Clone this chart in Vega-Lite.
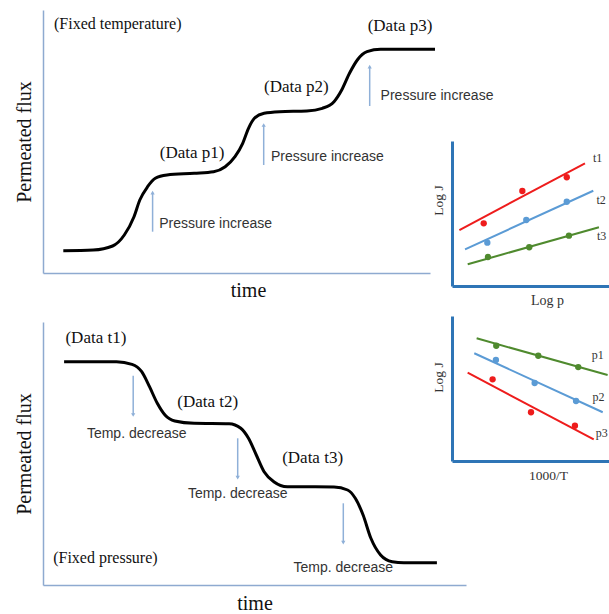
{
  "$schema": "https://vega.github.io/schema/vega-lite/v6.json",
  "background": "white",
  "padding": {"left": 14, "top": 10, "right": 0, "bottom": 0},
  "config": {
    "view": {"stroke": null},
    "axis": {"grid": false, "labels": false, "ticks": false, "titleFontWeight": "normal", "titleFont": "Liberation Serif"}
  },
  "datasets": {
    "curveP": [
      {"time": 20.3, "flux": 22.3}, {"time": 50.2, "flux": 23}, {"time": 69.6, "flux": 27}, {"time": 81.3, "flux": 38},
      {"time": 91, "flux": 56.3}, {"time": 96.8, "flux": 73}, {"time": 104.6, "flux": 86.3}, {"time": 112.3, "flux": 94.7},
      {"time": 124, "flux": 98}, {"time": 151.2, "flux": 99.7}, {"time": 170.6, "flux": 101.3}, {"time": 182.2, "flux": 106.3},
      {"time": 192, "flux": 116.3}, {"time": 199.7, "flux": 129.7}, {"time": 205.5, "flux": 144.7}, {"time": 211.4, "flux": 154.7},
      {"time": 221.1, "flux": 159.7}, {"time": 236.6, "flux": 161.3}, {"time": 263.8, "flux": 162}, {"time": 279.3, "flux": 164.7},
      {"time": 291, "flux": 171.3}, {"time": 298.7, "flux": 183}, {"time": 306.5, "flux": 199.7}, {"time": 314.3, "flux": 213},
      {"time": 324, "flux": 221.3}, {"time": 337.6, "flux": 223.7}, {"time": 392, "flux": 223.7}
    ],
    "curveT": [
      {"time": 21.1, "flux": 223.3}, {"time": 73.5, "flux": 223.3}, {"time": 89, "flux": 220.7}, {"time": 98.7, "flux": 213.3},
      {"time": 106.5, "flux": 198.3}, {"time": 114.3, "flux": 181.7}, {"time": 122, "flux": 170}, {"time": 131.8, "flux": 164},
      {"time": 151.2, "flux": 161.7}, {"time": 186.1, "flux": 161.3}, {"time": 197.8, "flux": 156.7}, {"time": 205.5, "flux": 146.7},
      {"time": 213.3, "flux": 130}, {"time": 221.1, "flux": 113.3}, {"time": 230.8, "flux": 103.3}, {"time": 244.4, "flux": 98.3},
      {"time": 291, "flux": 98}, {"time": 304.6, "flux": 95}, {"time": 312.3, "flux": 86.7}, {"time": 320.1, "flux": 70},
      {"time": 327.9, "flux": 46.7}, {"time": 337.6, "flux": 30}, {"time": 349.2, "flux": 23.3}, {"time": 360.9, "flux": 22.3},
      {"time": 393.9, "flux": 22.3}
    ],
    "arrowsP": [
      {"time": 109.6, "from": 41.3, "to": 80.3},
      {"time": 220.7, "from": 108, "to": 148},
      {"time": 326.7, "from": 167, "to": 206.3}
    ],
    "arrowsT": [
      {"time": 90.2, "from": 209.3, "to": 170},
      {"time": 194.7, "from": 146.7, "to": 107.3},
      {"time": 300.3, "from": 81.7, "to": 42.3}
    ],
    "dataLabelsP": [
      {"label": "(Data p1)", "time": 149.2, "flux": 120.3},
      {"label": "(Data p2)", "time": 253.3, "flux": 185.7},
      {"label": "(Data p3)", "time": 357, "flux": 247}
    ],
    "dataLabelsT": [
      {"label": "(Data t1)", "time": 52.9, "flux": 246.7},
      {"label": "(Data t2)", "time": 164.8, "flux": 183.3},
      {"label": "(Data t3)", "time": 269.6, "flux": 126.7}
    ],
    "fixedP": [{"label": "(Fixed temperature)", "time": 11, "flux": 249}],
    "fixedT": [{"label": "(Fixed pressure)", "time": 10.2, "flux": 26.7}],
    "notesP": [
      {"label": "Pressure increase", "time": 116.2, "flux": 49},
      {"label": "Pressure increase", "time": 228, "flux": 115.7},
      {"label": "Pressure increase", "time": 337.6, "flux": 177}
    ],
    "notesT": [
      {"label": "Temp. decrease", "time": 93.7, "flux": 150.7},
      {"label": "Temp. decrease", "time": 194.7, "flux": 91},
      {"label": "Temp. decrease", "time": 300.3, "flux": 17.3}
    ],
    "boxPLines": [
      {"series": "t1", "xv": 4.7, "logj": 38.6}, {"series": "t1", "xv": 84.7, "logj": 84.6},
      {"series": "t2", "xv": 8.3, "logj": 25.3}, {"series": "t2", "xv": 90, "logj": 65.7},
      {"series": "t3", "xv": 10, "logj": 15}, {"series": "t3", "xv": 93.6, "logj": 40.5}
    ],
    "boxPPoints": [
      {"series": "t1", "xv": 20.2, "logj": 43.2}, {"series": "t1", "xv": 44.8, "logj": 65.5}, {"series": "t1", "xv": 73.1, "logj": 75},
      {"series": "t2", "xv": 22.5, "logj": 29.9}, {"series": "t2", "xv": 47.3, "logj": 45.5}, {"series": "t2", "xv": 73.1, "logj": 58.1},
      {"series": "t3", "xv": 22.9, "logj": 20}, {"series": "t3", "xv": 49.2, "logj": 26.7}, {"series": "t3", "xv": 74.5, "logj": 34.7}
    ],
    "boxPLabels": [
      {"series": "t1", "xv": 92.8, "logj": 88},
      {"series": "t2", "xv": 95, "logj": 59.3},
      {"series": "t3", "xv": 95.3, "logj": 34.5}
    ],
    "boxTLines": [
      {"series": "p1", "xv": 15.6, "logj": 84.6}, {"series": "p1", "xv": 98.5, "logj": 59.3},
      {"series": "p2", "xv": 14.1, "logj": 74.3}, {"series": "p2", "xv": 95.4, "logj": 33.6},
      {"series": "p3", "xv": 9.9, "logj": 60.9}, {"series": "p3", "xv": 89.7, "logj": 14.9}
    ],
    "boxTPoints": [
      {"series": "p1", "xv": 28, "logj": 79.5}, {"series": "p1", "xv": 54.6, "logj": 72.6}, {"series": "p1", "xv": 79.9, "logj": 64.8},
      {"series": "p2", "xv": 27.8, "logj": 69.7}, {"series": "p2", "xv": 52.3, "logj": 53.8}, {"series": "p2", "xv": 78.5, "logj": 41.4},
      {"series": "p3", "xv": 25.7, "logj": 56.3}, {"series": "p3", "xv": 50, "logj": 33.6}, {"series": "p3", "xv": 77.8, "logj": 24.3}
    ],
    "boxTLabels": [
      {"series": "p1", "xv": 92.2, "logj": 73.1},
      {"series": "p2", "xv": 92.8, "logj": 44.4},
      {"series": "p3", "xv": 94.7, "logj": 19.1}
    ],
    "frame": [{}]
  },
  "bounds": "flush",
  "spacing": 409,
  "hconcat": [
    {
      "bounds": "flush",
      "spacing": 49,
      "vconcat": [
        {
          "width": 387,
          "height": 263,
          "encoding": {
            "x": {"type": "quantitative", "scale": {"domain": [0, 387], "nice": false, "zero": false},
                  "axis": {"title": "time", "titleFontSize": 20, "titleColor": "#111", "titlePadding": 7, "titleX": 205, "domainColor": "#8eaad0", "domainWidth": 1.5}},
            "y": {"type": "quantitative", "scale": {"domain": [0, 263], "nice": false, "zero": false},
                  "axis": {"title": "Permeated flux", "titleFontSize": 20, "titleColor": "#111", "titlePadding": 9, "domainColor": "#8eaad0", "domainWidth": 1.5}}
          },
          "layer": [
            {"data": {"name": "curveP"}, "mark": {"type": "line", "color": "#000", "strokeWidth": 3, "interpolate": "monotone"},
             "encoding": {"x": {"field": "time"}, "y": {"field": "flux"}}},
            {"data": {"name": "arrowsP"}, "mark": {"type": "rule", "color": "#8fb0d8", "strokeWidth": 1.5},
             "encoding": {"x": {"field": "time"}, "y": {"field": "from"}, "y2": {"field": "to"}}},
            {"data": {"name": "arrowsP"}, "mark": {"type": "point", "shape": "triangle-up", "filled": true, "color": "#8fb0d8", "size": 18, "opacity": 1},
             "encoding": {"x": {"field": "time"}, "y": {"field": "to"}}},
            {"data": {"name": "dataLabelsP"}, "mark": {"type": "text", "font": "Liberation Serif", "fontSize": 17, "color": "#111", "align": "center", "baseline": "middle"},
             "encoding": {"x": {"field": "time"}, "y": {"field": "flux"}, "text": {"field": "label"}}},
            {"data": {"name": "fixedP"}, "mark": {"type": "text", "font": "Liberation Serif", "fontSize": 16, "color": "#111", "align": "left", "baseline": "middle"},
             "encoding": {"x": {"field": "time"}, "y": {"field": "flux"}, "text": {"field": "label"}}},
            {"data": {"name": "notesP"}, "mark": {"type": "text", "font": "Liberation Sans", "fontSize": 14, "color": "#333", "align": "left", "baseline": "middle"},
             "encoding": {"x": {"field": "time"}, "y": {"field": "flux"}, "text": {"field": "label"}}}
          ]
        },
        {
          "width": 423,
          "height": 263,
          "encoding": {
            "x": {"type": "quantitative", "scale": {"domain": [0, 423], "nice": false, "zero": false},
                  "axis": {"title": "time", "titleFontSize": 20, "titleColor": "#111", "titlePadding": 8, "domainColor": "#8eaad0", "domainWidth": 1.5}},
            "y": {"type": "quantitative", "scale": {"domain": [0, 263], "nice": false, "zero": false},
                  "axis": {"title": "Permeated flux", "titleFontSize": 20, "titleColor": "#111", "titlePadding": 9, "domainColor": "#8eaad0", "domainWidth": 1.5}}
          },
          "layer": [
            {"data": {"name": "curveT"}, "mark": {"type": "line", "color": "#000", "strokeWidth": 3, "interpolate": "monotone"},
             "encoding": {"x": {"field": "time"}, "y": {"field": "flux"}}},
            {"data": {"name": "arrowsT"}, "mark": {"type": "rule", "color": "#8fb0d8", "strokeWidth": 1.5},
             "encoding": {"x": {"field": "time"}, "y": {"field": "from"}, "y2": {"field": "to"}}},
            {"data": {"name": "arrowsT"}, "mark": {"type": "point", "shape": "triangle-down", "filled": true, "color": "#8fb0d8", "size": 18, "opacity": 1},
             "encoding": {"x": {"field": "time"}, "y": {"field": "to"}}},
            {"data": {"name": "dataLabelsT"}, "mark": {"type": "text", "font": "Liberation Serif", "fontSize": 17, "color": "#111", "align": "center", "baseline": "middle"},
             "encoding": {"x": {"field": "time"}, "y": {"field": "flux"}, "text": {"field": "label"}}},
            {"data": {"name": "fixedT"}, "mark": {"type": "text", "font": "Liberation Serif", "fontSize": 16, "color": "#111", "align": "left", "baseline": "middle"},
             "encoding": {"x": {"field": "time"}, "y": {"field": "flux"}, "text": {"field": "label"}}},
            {"data": {"name": "notesT"}, "mark": {"type": "text", "font": "Liberation Sans", "fontSize": 14, "color": "#333", "align": "center", "baseline": "middle"},
             "encoding": {"x": {"field": "time"}, "y": {"field": "flux"}, "text": {"field": "label"}}}
          ]
        }
      ]
    },
    {
      "bounds": "flush",
      "spacing": 30,
      "resolve": {"scale": {"color": "independent"}},
      "vconcat": [
        {
          "width": 157,
          "height": 101,
          "data": {"name": "frame"},
          "mark": {"type": "text", "text": ""},
          "encoding": {}
        },
        {
          "width": 157,
          "height": 145,
          "encoding": {
            "x": {"field": "xv", "type": "quantitative", "scale": {"domain": [0, 100], "nice": false, "zero": false},
                  "axis": {"title": "Log p", "titleFontSize": 14, "titleColor": "#333", "titlePadding": 7, "titleX": 95, "domainColor": "#2e75b6", "domainWidth": 3}},
            "y": {"field": "logj", "type": "quantitative", "scale": {"domain": [0, 100], "nice": false, "zero": false},
                  "axis": {"title": "Log J", "titleFontSize": 13.5, "titleColor": "#333", "titlePadding": 7, "titleY": 59, "domainColor": "#2e75b6", "domainWidth": 3}},
            "color": {"field": "series", "type": "nominal", "scale": {"domain": ["t1", "t2", "t3"], "range": ["#ee1c1c", "#5b9bd5", "#4f8a2e"]}, "legend": null}
          },
          "layer": [
            {"data": {"name": "frame"}, "mark": {"type": "rule", "color": "#2e75b6", "strokeWidth": 3, "strokeCap": "square"},
             "encoding": {"x": {"datum": 0}, "x2": {"datum": 100}, "y": {"datum": 100}, "color": {"value": "#2e75b6"}}},
            {"data": {"name": "boxPLines"}, "mark": {"type": "line", "strokeWidth": 2}},
            {"data": {"name": "boxPPoints"}, "mark": {"type": "circle", "size": 40, "opacity": 1}},
            {"data": {"name": "boxPLabels"}, "mark": {"type": "text", "font": "Liberation Serif", "fontSize": 12, "align": "center", "baseline": "middle"},
             "encoding": {"text": {"field": "series"}, "color": {"value": "#333"}}}
          ]
        },
        {
          "width": 158,
          "height": 145,
          "encoding": {
            "x": {"field": "xv", "type": "quantitative", "scale": {"domain": [0, 100], "nice": false, "zero": false},
                  "axis": {"title": "1000/T", "titleFontSize": 13.5, "titleColor": "#333", "titlePadding": 7, "titleX": 96, "domainColor": "#2e75b6", "domainWidth": 3}},
            "y": {"field": "logj", "type": "quantitative", "scale": {"domain": [0, 100], "nice": false, "zero": false},
                  "axis": {"title": "Log J", "titleFontSize": 13.5, "titleColor": "#333", "titlePadding": 7, "titleY": 61, "domainColor": "#2e75b6", "domainWidth": 3}},
            "color": {"field": "series", "type": "nominal", "scale": {"domain": ["p1", "p2", "p3"], "range": ["#4f8a2e", "#5b9bd5", "#ee1c1c"]}, "legend": null}
          },
          "layer": [
            {"data": {"name": "frame"}, "mark": {"type": "rule", "color": "#2e75b6", "strokeWidth": 3, "strokeCap": "square"},
             "encoding": {"x": {"datum": 0}, "x2": {"datum": 100}, "y": {"datum": 100}, "color": {"value": "#2e75b6"}}},
            {"data": {"name": "boxTLines"}, "mark": {"type": "line", "strokeWidth": 2}},
            {"data": {"name": "boxTPoints"}, "mark": {"type": "circle", "size": 40, "opacity": 1}},
            {"data": {"name": "boxTLabels"}, "mark": {"type": "text", "font": "Liberation Serif", "fontSize": 12, "align": "center", "baseline": "middle"},
             "encoding": {"text": {"field": "series"}, "color": {"value": "#333"}}}
          ]
        }
      ]
    }
  ]
}
